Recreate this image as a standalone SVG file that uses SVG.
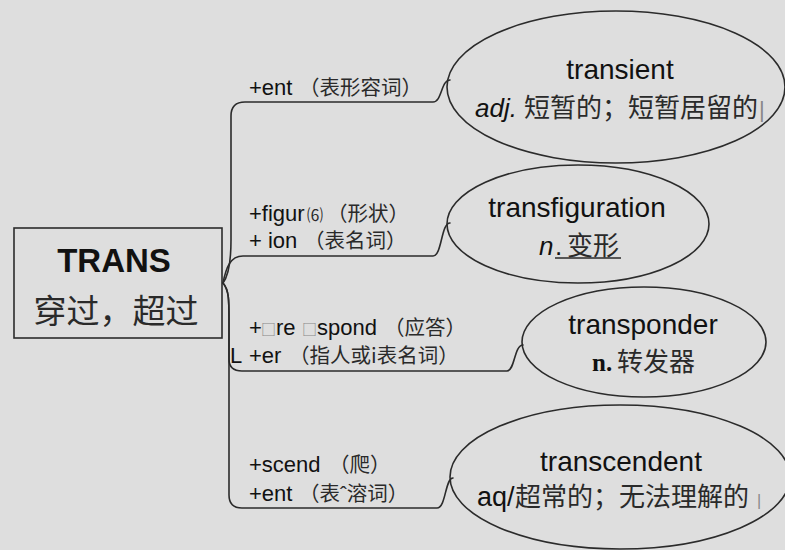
<svg xmlns="http://www.w3.org/2000/svg" width="785" height="550" viewBox="0 0 785 550">
<style>
.bg{fill:#dedede}
.conn{fill:none;stroke:#2b2b2b;stroke-width:1.6;stroke-linecap:round;stroke-linejoin:round}
.shape{fill:none;stroke:#2b2b2b;stroke-width:1.6}
.lat{font-family:"Liberation Sans",Arial,"Noto Sans CJK SC",sans-serif;fill:#111}
.cjk{font-family:"Noto Sans CJK SC","Liberation Sans",sans-serif;fill:#2a2a2a}
.lbl{font-size:22px}
.lblc{font-size:20.5px}
.head{font-size:28px;text-anchor:middle}
.sub{font-size:26px}
.box{font-size:15px;fill:#888}
.bar{fill:#888}
</style>
<rect class="bg" x="0" y="0" width="785" height="550"/>

<g id="connectors">
  <path class="conn" d="M223,283 C229,275 231,260 231,240 L231,116 Q231,102 245,102 L433,102 C442,102 441,80 450,80"/>
  <path class="conn" d="M223,283 C226,268 230,256 243,256 L433,256 C442,256 441,223 450,223"/>
  <path class="conn" d="M223,283 C229,290 229,300 229,320 L229,359 Q229,371 242,371 L507,371 C515,371 514,345 523,345"/>
  <path class="conn" d="M223,283 C229,290 229,300 229,320 L229,495 Q229,508 242,508 L437,508 C446,508 445,478 453,478"/>
</g>

<g id="labels">
  <text class="lbl" y="95"><tspan class="lat" x="249">+ent</tspan><tspan class="cjk lblc" x="299">（表形容词）</tspan></text>
  <text class="lbl" y="221"><tspan class="lat" x="249">+figur</tspan><tspan class="cjk" font-size="16" x="307">⑹</tspan><tspan class="cjk lblc" x="327">（形状）</tspan></text>
  <text class="lbl" y="248"><tspan class="lat" x="249">+ ion</tspan><tspan class="cjk lblc" x="304">（表名词）</tspan></text>
  <text class="lbl" y="335"><tspan class="lat" x="249">+</tspan><tspan class="cjk box" x="261">□</tspan><tspan class="lat" x="276">re</tspan><tspan class="cjk box" x="302">□</tspan><tspan class="lat" x="317">spond</tspan><tspan class="cjk lblc" x="384">（应答）</tspan></text>
  <text class="lbl" y="363"><tspan class="lat" x="230">L</tspan><tspan class="lat" x="249">+er</tspan><tspan class="cjk lblc" x="289">（指人或i表名词）</tspan></text>
  <text class="lbl" y="472"><tspan class="lat" x="249">+scend</tspan><tspan class="cjk lblc" x="329">（爬）</tspan></text>
  <text class="lbl" y="501"><tspan class="lat" x="249">+ent</tspan><tspan class="cjk lblc" x="299">（表ˆ溶词）</tspan></text>
</g>

<g id="root">
  <rect class="shape" x="14" y="228" width="208" height="110" stroke-width="2"/>
  <text class="lat" x="114" y="272" font-size="33" font-weight="bold" text-anchor="middle">TRANS</text>
  <text class="cjk" x="116" y="323" font-size="33" text-anchor="middle">穿过，超过</text>
</g>

<g id="node-transient">
  <ellipse class="shape" cx="616" cy="87" rx="169" ry="76"/>
  <text class="lat head" x="620" y="79">transient</text>
  <text y="117"><tspan class="lat sub" x="475" font-style="italic">adj.</tspan><tspan class="cjk sub" x="524">短暂的；短暂居留的</tspan><tspan class="lat bar" x="759" font-size="22">|</tspan></text>
</g>

<g id="node-transfiguration">
  <ellipse class="shape" cx="578" cy="224" rx="131" ry="59"/>
  <text class="lat head" x="577" y="217">transfiguration</text>
  <text y="255"><tspan class="lat sub" x="539" font-style="italic">n</tspan><tspan class="lat sub" x="555">.</tspan><tspan class="cjk sub" x="567">变形</tspan></text>
  <line x1="555" y1="258" x2="621" y2="258" stroke="#2a2a2a" stroke-width="1.3"/>
</g>

<g id="node-transponder">
  <ellipse class="shape" cx="644" cy="342" rx="122" ry="55"/>
  <text class="lat head" x="643" y="334">transponder</text>
  <text y="371"><tspan x="592" font-family="Liberation Serif,serif" font-weight="bold" font-size="25" fill="#111">n.</tspan><tspan class="cjk sub" x="617">转发器</tspan></text>
</g>

<g id="node-transcendent">
  <ellipse class="shape" cx="620" cy="477" rx="170" ry="72"/>
  <text class="lat head" x="621" y="471">transcendent</text>
  <text y="506"><tspan class="lat" x="477" font-size="27">aq/</tspan><tspan class="cjk sub" x="515">超常的；无法理解的</tspan><tspan class="lat bar" x="757" font-size="16">|</tspan></text>
</g>
</svg>
